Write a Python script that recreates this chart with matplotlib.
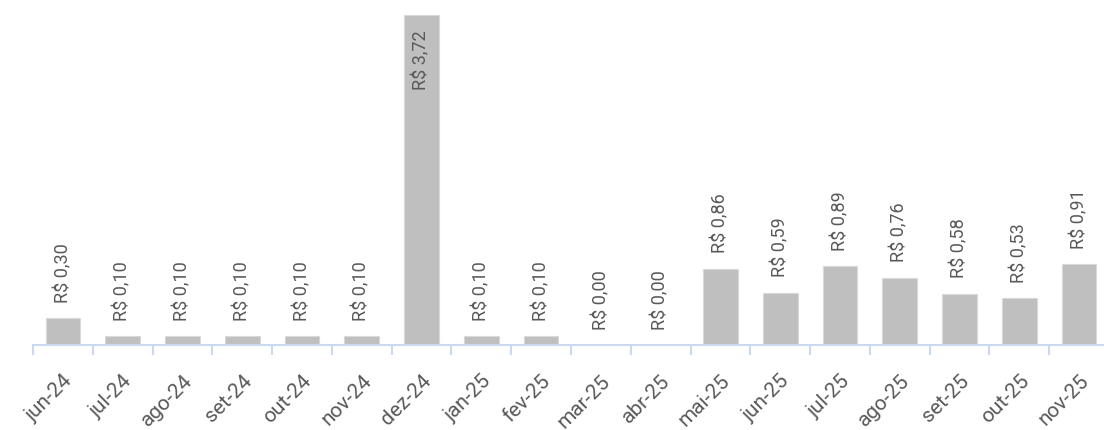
import numpy as np
import matplotlib.pyplot as plt

# dados
meses = ['jun-24', 'jul-24', 'ago-24', 'set-24', 'out-24', 'nov-24', 'dez-24',
         'jan-25', 'fev-25', 'mar-25', 'abr-25', 'mai-25', 'jun-25', 'jul-25',
         'ago-25', 'set-25', 'out-25', 'nov-25']
valores = [0.30, 0.10, 0.10, 0.10, 0.10, 0.10, 3.72,
           0.10, 0.10, 0.00, 0.00, 0.86, 0.59, 0.89,
           0.76, 0.58, 0.53, 0.91]

plt.rcParams['font.family'] = ['Roboto', 'DejaVu Sans']
cor_texto = '#595959'

fig = plt.figure(figsize=(11.04, 4.30), dpi=100)
# eixo passa um pouco da borda direita, como no original
ax = fig.add_axes([33 / 1104, 85 / 430, 1076 / 1104, 330 / 430])

x = np.arange(len(meses))
ax.bar(x, valores, width=0.58, color='#bfbfbf', edgecolor='#d9d9d9', linewidth=0.8)

vmax = max(valores)
for xi, v in zip(x, valores):
    txt = 'R$ ' + f'{v:.2f}'.replace('.', ',')
    if v == vmax:
        ax.annotate(txt, (xi, v), xytext=(0, -11), textcoords='offset points',
                    rotation=90, ha='center', va='top', fontsize=13,
                    color=cor_texto)
    else:
        ax.annotate(txt, (xi, v), xytext=(0, 11), textcoords='offset points',
                    rotation=90, ha='center', va='bottom', fontsize=13,
                    color=cor_texto)

ax.set_xlim(-0.5, len(meses) - 0.5)
ax.set_ylim(0, vmax)

for s in ['top', 'right', 'left']:
    ax.spines[s].set_visible(False)
ax.spines['bottom'].set_color('#c9d9ef')
ax.spines['bottom'].set_linewidth(1.5)
ax.set_yticks([])

ax.set_xticks(x)
ax.set_xticklabels(meses, rotation=45, ha='right', rotation_mode='anchor',
                   fontsize=15, color=cor_texto)
ax.tick_params(axis='x', which='major', length=0, pad=19)
ax.set_xticks(np.arange(len(meses) + 1) - 0.5, minor=True)
ax.tick_params(axis='x', which='minor', length=7, width=1.5, color='#c9d9ef')

fig.savefig('out.png', dpi=100)
